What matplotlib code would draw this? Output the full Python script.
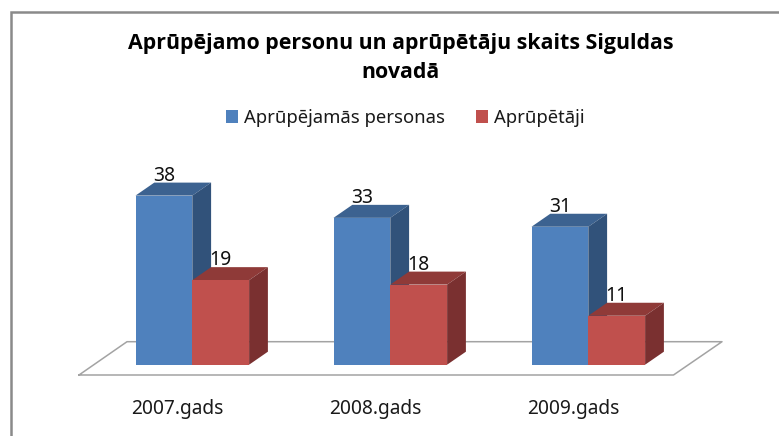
# -*- coding: utf-8 -*-
import numpy as np
import matplotlib
matplotlib.use('Agg')
import matplotlib.pyplot as plt
from matplotlib.lines import Line2D

plt.rcParams['font.family'] = ['Noto Sans', 'DejaVu Sans']

# chart data
categories = ['2007.gads', '2008.gads', '2009.gads']
persons = [38, 33, 31]
carers = [19, 18, 11]
series_names = ['Aprūpējamās personas', 'Aprūpētāji']
title = 'Aprūpējamo personu un aprūpētāju skaits Siguldas\nnovadā'

W, H = 779, 436
PX_X = 198.0    # pixels per category
PX_Y = 4.45     # pixels per count
BASE = 364.7    # pixel row of value 0
FLOOR = 375.0   # pixel row of the front floor edge
X0 = 192.3      # pixel column of the first category


def depth_box(ax, x, v, w, dx, dy, top_col, side_col):
    # top and side faces of a fake 3d bar
    ax.fill([x, x + dx, x + w + dx, x + w], [v, v + dy, v + dy, v],
            color=top_col, lw=0, zorder=3)
    ax.fill([x + w, x + w + dx, x + w + dx, x + w], [0, dy, v + dy, v],
            color=side_col, lw=0, zorder=3)


fig = plt.figure(figsize=(W / 100, H / 100), dpi=100)
ax = fig.add_axes([0, (H - FLOOR) / H, 1, FLOOR / H])
ax.set_xlim(-X0 / PX_X, (W - X0) / PX_X)
ax.set_ylim(-(FLOOR - BASE) / PX_Y, BASE / PX_Y)
ax.patch.set_alpha(0)
for s in ax.spines.values():
    s.set_visible(False)

x = np.arange(len(categories))
bar_w = 56.8 / PX_X
dep_x = 18.8 / PX_X
dep_y = 13.0 / PX_Y

# floor
y_front = -(FLOOR - BASE) / PX_Y
y_back = (BASE - 341.7) / PX_Y
ax.plot([(79 - X0) / PX_X, (673.5 - X0) / PX_X, (722 - X0) / PX_X, (127 - X0) / PX_X,
         (79 - X0) / PX_X],
        [y_front, y_front, y_back, y_back, y_front],
        color='#a3a3a3', lw=1.1, clip_on=False, zorder=1)

# draw back to front, red over the blue side
for i in x:
    depth_box(ax, i - bar_w, persons[i], bar_w, dep_x, dep_y, '#3c6290', '#31527a')
b1 = ax.bar(x - bar_w / 2, persons, bar_w, color='#4f81bd', zorder=4, label=series_names[0])
for i in x:
    depth_box(ax, i, carers[i], bar_w, dep_x, dep_y, '#8f3a38', '#7a3030')
b2 = ax.bar(x + bar_w / 2, carers, bar_w, color='#c0504d', zorder=5, label=series_names[1])

# value labels
for i in x:
    ax.annotate(str(persons[i]), (i - bar_w / 2, persons[i]), xytext=(0, 20 * 0.72),
                textcoords='offset points', ha='center', va='center',
                fontsize=14, color='#111111', zorder=6)
    ax.annotate(str(carers[i]), (i + bar_w / 2, carers[i]), xytext=(0, 20 * 0.72),
                textcoords='offset points', ha='center', va='center',
                fontsize=14, color='#111111', zorder=6)

ax.set_yticks([])
ax.set_xticks(x - 15 / PX_X)
ax.set_xticklabels(categories, fontsize=13.8, color='#1a1a1a')
ax.tick_params(axis='x', length=0, pad=17)

fig.text(400.5 / W, 1 - 58 / H, title, ha='center', va='center', fontsize=15.4,
         fontweight='bold', family=['Open Sans', 'DejaVu Sans'], color='black', linespacing=1.45)

ax.legend(handles=[b1, b2], loc='center', bbox_to_anchor=(405 / W, 1 - 118 / H),
          bbox_transform=fig.transFigure, ncol=2, frameon=False, fontsize=13.3,
          handlelength=0.68, handleheight=0.68, handletextpad=0.3, columnspacing=1.68,
          labelcolor='#1a1a1a', borderpad=0)

# frame of the screenshot: only top and left show
fig.add_artist(Line2D([10.5 / W, 10.5 / W, 1], [0, 1 - 12 / H, 1 - 12 / H],
                      color='#8a8a8a', lw=1.8, solid_joinstyle='miter'))

fig.savefig('out.png', dpi=100)
